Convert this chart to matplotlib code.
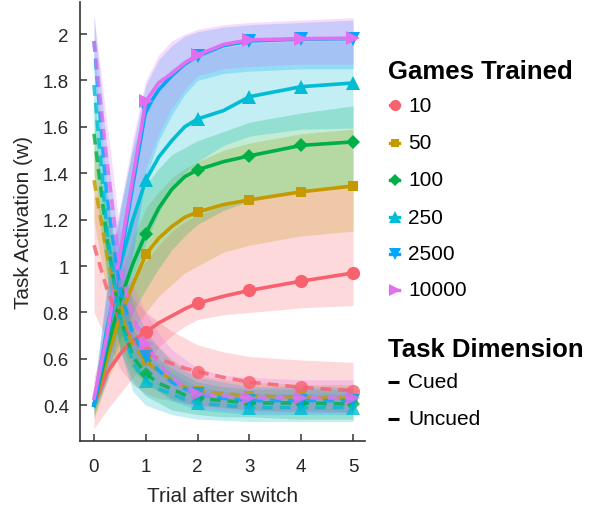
import numpy as np
import matplotlib
matplotlib.use('Agg')
import matplotlib.pyplot as plt
from matplotlib.lines import Line2D

plt.rcParams['font.family'] = ['Liberation Sans', 'DejaVu Sans']

# trial positions (sub-trial samples between switches)
t = [0, 0.25, 0.5, 0.75, 1, 1.25, 1.5, 1.75, 2, 2.5, 3, 4, 5]
mark_idx = [4, 8, 10, 11, 12]   # trials 1..5 carry markers

games = ['10', '50', '100', '250', '2500', '10000']
colors = ['#F8616E', '#C49A00', '#00B047', '#00BCD4', '#00A6FF', '#E270EE']
markers = ['o', 's', 'D', '^', 'v', '>']
msizes = [9.5, 7.5, 7.5, 9.5, 9.5, 9.5]

# cued dimension: mean activation
cued_10 = [0.40, 0.54, 0.62, 0.68, 0.715, 0.755, 0.785, 0.815, 0.84, 0.87, 0.895, 0.935, 0.97]
cued_50 = [0.40, 0.60, 0.78, 0.92, 1.05, 1.12, 1.17, 1.21, 1.233, 1.265, 1.285, 1.32, 1.345]
cued_100 = [0.40, 0.64, 0.85, 1.01, 1.14, 1.25, 1.33, 1.385, 1.415, 1.45, 1.475, 1.52, 1.535]
cued_250 = [0.40, 0.73, 1.00, 1.20, 1.37, 1.47, 1.54, 1.60, 1.634, 1.67, 1.73, 1.773, 1.789]
cued_2500 = [0.40, 0.68, 1.02, 1.35, 1.675, 1.76, 1.82, 1.87, 1.905, 1.95, 1.97, 1.978, 1.98]
cued_10000 = [0.43, 0.70, 1.05, 1.38, 1.71, 1.79, 1.83, 1.875, 1.91, 1.955, 1.975, 1.98, 1.982]

# cued dimension: spread (lower / upper)
cued_lo_10 = [0.30, 0.38, 0.45, 0.52, 0.58, 0.65, 0.70, 0.74, 0.77, 0.79, 0.80, 0.82, 0.83]
cued_hi_10 = [0.52, 0.72, 0.86, 0.95, 1.02, 1.09, 1.15, 1.19, 1.22, 1.26, 1.28, 1.32, 1.34]
cued_lo_50 = [0.34, 0.50, 0.62, 0.72, 0.80, 0.87, 0.92, 0.97, 1.00, 1.06, 1.09, 1.13, 1.15]
cued_hi_50 = [0.46, 0.72, 0.95, 1.12, 1.25, 1.32, 1.38, 1.42, 1.45, 1.50, 1.53, 1.57, 1.59]
cued_lo_100 = [0.35, 0.52, 0.68, 0.80, 0.90, 0.99, 1.07, 1.13, 1.18, 1.24, 1.28, 1.32, 1.34]
cued_hi_100 = [0.46, 0.76, 1.02, 1.20, 1.35, 1.42, 1.48, 1.51, 1.54, 1.58, 1.62, 1.66, 1.69]
cued_lo_250 = [0.36, 0.56, 0.78, 0.95, 1.10, 1.23, 1.33, 1.40, 1.45, 1.52, 1.56, 1.59, 1.595]
cued_hi_250 = [0.46, 0.92, 1.25, 1.50, 1.68, 1.78, 1.85, 1.89, 1.91, 1.94, 1.96, 1.97, 1.97]
cued_lo_2500 = [0.38, 0.50, 0.75, 1.05, 1.38, 1.54, 1.65, 1.74, 1.80, 1.83, 1.84, 1.85, 1.85]
cued_hi_2500 = [0.45, 0.88, 1.22, 1.52, 1.78, 1.89, 1.95, 1.99, 2.01, 2.03, 2.04, 2.05, 2.06]
cued_lo_10000 = [0.40, 0.52, 0.78, 1.08, 1.42, 1.57, 1.68, 1.76, 1.82, 1.85, 1.86, 1.87, 1.87]
cued_hi_10000 = [0.47, 0.90, 1.25, 1.55, 1.80, 1.91, 1.97, 2.00, 2.02, 2.04, 2.05, 2.06, 2.07]

# uncued dimension: mean activation
unc_10 = [1.09, 0.90, 0.76, 0.68, 0.63, 0.60, 0.58, 0.56, 0.545, 0.52, 0.50, 0.477, 0.463]
unc_50 = [1.37, 1.05, 0.80, 0.66, 0.59, 0.545, 0.51, 0.48, 0.46, 0.45, 0.44, 0.435, 0.43]
unc_100 = [1.57, 1.12, 0.78, 0.61, 0.535, 0.495, 0.47, 0.445, 0.43, 0.42, 0.41, 0.41, 0.405]
unc_250 = [1.78, 1.15, 0.78, 0.58, 0.505, 0.47, 0.45, 0.425, 0.41, 0.40, 0.39, 0.39, 0.39]
unc_2500 = [1.97, 1.30, 0.90, 0.71, 0.61, 0.55, 0.50, 0.47, 0.45, 0.43, 0.42, 0.42, 0.42]
unc_10000 = [1.97, 1.45, 0.99, 0.78, 0.665, 0.58, 0.52, 0.475, 0.448, 0.44, 0.431, 0.431, 0.431]

# uncued dimension: spread (lower / upper)
unc_lo_10 = [0.80, 0.68, 0.56, 0.49, 0.45, 0.43, 0.42, 0.41, 0.40, 0.39, 0.38, 0.37, 0.37]
unc_hi_10 = [1.35, 1.12, 0.96, 0.86, 0.80, 0.76, 0.72, 0.69, 0.66, 0.63, 0.61, 0.595, 0.585]
unc_lo_50 = [1.20, 0.88, 0.66, 0.55, 0.49, 0.46, 0.43, 0.41, 0.40, 0.39, 0.38, 0.38, 0.37]
unc_hi_50 = [1.55, 1.22, 0.95, 0.78, 0.70, 0.65, 0.60, 0.56, 0.53, 0.51, 0.50, 0.49, 0.49]
unc_lo_100 = [1.40, 0.95, 0.64, 0.50, 0.44, 0.41, 0.38, 0.37, 0.36, 0.35, 0.35, 0.34, 0.34]
unc_hi_100 = [1.74, 1.30, 0.93, 0.73, 0.64, 0.60, 0.56, 0.53, 0.50, 0.48, 0.47, 0.47, 0.47]
unc_lo_250 = [1.60, 0.98, 0.64, 0.46, 0.40, 0.38, 0.36, 0.35, 0.34, 0.335, 0.33, 0.33, 0.33]
unc_hi_250 = [1.95, 1.33, 0.93, 0.70, 0.62, 0.58, 0.54, 0.51, 0.48, 0.46, 0.45, 0.45, 0.45]
unc_lo_2500 = [1.85, 1.10, 0.74, 0.58, 0.50, 0.46, 0.42, 0.40, 0.38, 0.37, 0.36, 0.36, 0.36]
unc_hi_2500 = [2.08, 1.50, 1.06, 0.84, 0.72, 0.65, 0.59, 0.55, 0.52, 0.50, 0.48, 0.48, 0.48]
unc_lo_10000 = [1.86, 1.25, 0.82, 0.64, 0.55, 0.49, 0.44, 0.41, 0.39, 0.38, 0.37, 0.37, 0.37]
unc_hi_10000 = [2.08, 1.62, 1.15, 0.92, 0.80, 0.71, 0.64, 0.60, 0.56, 0.53, 0.52, 0.51, 0.51]

cued = [cued_10, cued_50, cued_100, cued_250, cued_2500, cued_10000]
cued_lo = [cued_lo_10, cued_lo_50, cued_lo_100, cued_lo_250, cued_lo_2500, cued_lo_10000]
cued_hi = [cued_hi_10, cued_hi_50, cued_hi_100, cued_hi_250, cued_hi_2500, cued_hi_10000]
unc = [unc_10, unc_50, unc_100, unc_250, unc_2500, unc_10000]
unc_lo = [unc_lo_10, unc_lo_50, unc_lo_100, unc_lo_250, unc_lo_2500, unc_lo_10000]
unc_hi = [unc_hi_10, unc_hi_50, unc_hi_100, unc_hi_250, unc_hi_2500, unc_hi_10000]

W, H = 589, 510
fig = plt.figure(figsize=(W / 100, H / 100), dpi=100)
ax = fig.add_axes([80 / W, 1 - 442 / H, 285 / W, 439 / H])

for i in range(len(games)):
    ax.fill_between(t, cued_lo[i], cued_hi[i], color=colors[i], alpha=0.24, lw=0)
    ax.fill_between(t, unc_lo[i], unc_hi[i], color=colors[i], alpha=0.24, lw=0)

for i in range(len(games)):
    ax.plot(t, cued[i], color=colors[i], lw=2.6,
            marker=markers[i], ms=msizes[i], markevery=mark_idx, mew=0)
for i in range(len(games)):
    ax.plot(t, unc[i], color=colors[i], lw=2.6, dashes=(3.0, 1.9), alpha=0.8,
            marker=markers[i], ms=msizes[i], markevery=mark_idx, mew=0)

ax.set_xlim(-0.27, 5.23)
ax.set_ylim(0.246, 2.138)
ax.set_xticks([0, 1, 2, 3, 4, 5])
ax.set_yticks([0.4, 0.6, 0.8, 1.0, 1.2, 1.4, 1.6, 1.8, 2.0])
ax.set_yticklabels(['0.4', '0.6', '0.8', '1', '1.2', '1.4', '1.6', '1.8', '2'])
ax.tick_params(direction='in', length=5, width=1.1, color='#333333',
               labelsize=13.5, labelcolor='#262626')
ax.tick_params(axis='x', pad=12)
ax.tick_params(axis='y', pad=8)
for s in ['top', 'right']:
    ax.spines[s].set_visible(False)
for s in ['left', 'bottom']:
    ax.spines[s].set_color('#333333')
    ax.spines[s].set_linewidth(1.2)
ax.set_xlabel('Trial after switch', fontsize=15, color='#262626', labelpad=8)
ax.set_ylabel('Task Activation (w)', fontsize=15, color='#262626', labelpad=7)

def fx(px):
    return px / W

def fy(py):
    return 1 - py / H

# legend: number of games trained
fig.text(fx(388), fy(72), 'Games Trained', fontsize=18.5, fontweight='bold',
         va='center', ha='left')
rows = [106, 143.5, 181, 218, 255, 291]
for i in range(len(games)):
    fig.add_artist(Line2D([fx(390), fx(399)], [fy(rows[i])] * 2, transform=fig.transFigure,
                          color=colors[i], lw=2.4))
    fig.add_artist(Line2D([fx(394.5)], [fy(rows[i])], transform=fig.transFigure,
                          color=colors[i], marker=markers[i], ms=msizes[i] - 1.5, mew=0))
    fig.text(fx(408), fy(rows[i]), games[i], fontsize=15, va='center', ha='left')

# legend: line style per task dimension
fig.text(fx(388), fy(350), 'Task Dimension', fontsize=18.5, fontweight='bold',
         va='center', ha='left')
for py, lab in [(383, 'Cued'), (420, 'Uncued')]:
    fig.add_artist(Line2D([fx(388), fx(399)], [fy(py)] * 2, transform=fig.transFigure,
                          color='black', lw=2.2, solid_capstyle='butt'))
    fig.text(fx(408), fy(py), lab, fontsize=15, va='center', ha='left')

fig.savefig('out.png', dpi=100)
